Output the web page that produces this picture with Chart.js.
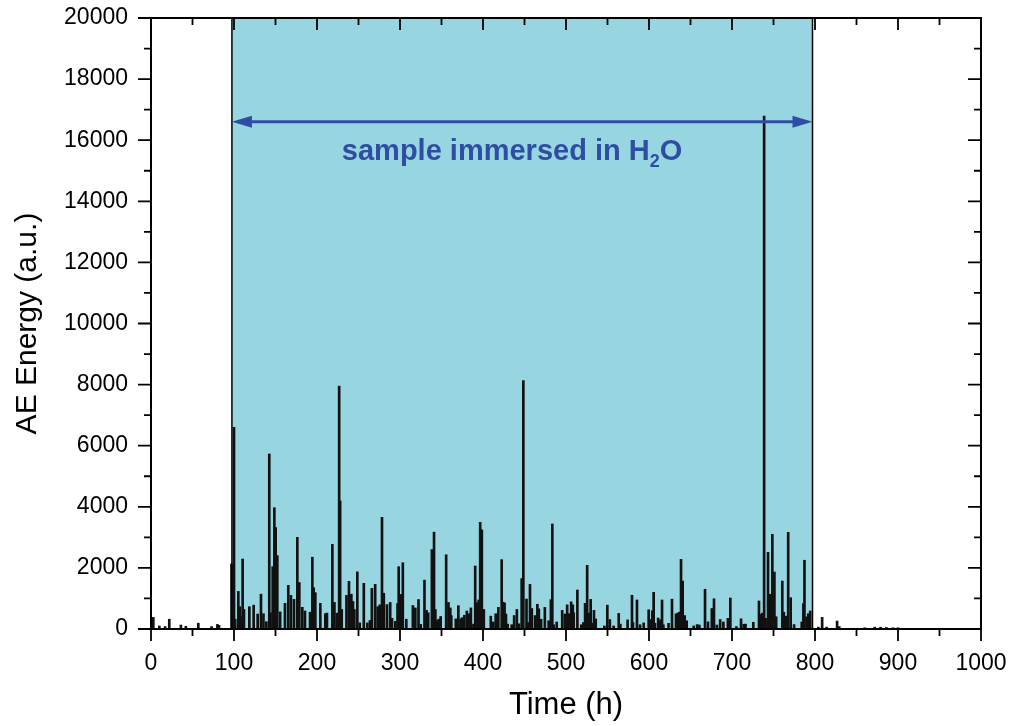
<!DOCTYPE html>
<html>
<head>
<meta charset="utf-8">
<script src="https://cdn.jsdelivr.net/npm/chart.js@4/dist/chart.umd.min.js"></script>
<style>
html,body{margin:0;padding:0;background:#fff;}
#wrap{width:1011px;height:726px;position:relative;}
</style>
</head>
<body>
<div id="wrap"><canvas id="c" width="1011" height="726"></canvas></div>
<script>
// ---- data ----
const times = [
  2.8, 10, 17, 22, 36, 42, 57, 73, 80, 82,
  97, 100, 101.5, 105.2, 107, 108, 110.4, 112, 118.5, 123.7, 128.5, 132.5, 135.5, 139,
  142.5, 144, 146.6, 148.6, 150.2, 152.2, 155.6, 161.4, 165.4, 168.6, 172.3, 176.3, 178.7,
  182.3, 185.5, 191.6, 194.4, 196, 198, 204, 210, 212, 218.5, 221, 224, 226.7, 227.9, 229.8,
  235.5, 238.5, 241.4, 243.4, 245, 248.6, 251.5, 256.4, 260.7, 263.8, 266.1, 270.1, 273.2,
  275.6, 278.3, 280.5, 284.3, 288.2, 290.4, 294.4, 297, 298.4, 301.2, 303.4, 307.6, 315.5,
  318.5, 322.3, 325, 329.5, 332, 334, 338.4, 341, 342.6, 344.5, 346.6, 349, 355.6, 358.4,
  360.6, 361.8, 367.2, 370.3, 373, 374.4, 377.5, 380.5, 383, 385.4, 388.5, 390.6, 393, 394.8,
  396.6, 398.6, 401, 409.4, 412.4, 415.3, 418.5, 422.5, 424.5, 426, 427.7, 429.7, 434.6,
  437.5, 440.8, 443.4, 446.6, 448.6, 452.4, 454.2, 456.6, 458.8, 462.7, 465.5, 467.3, 470,
  474.5, 479.1, 481.8, 483.5, 485.1, 488.8, 495.4, 498.6, 501.4, 503.4, 506.2, 508.2, 509.3,
  513.7, 518.5, 520.9, 523, 525.5, 527.5, 529.7, 531.7, 533.7, 535.8, 546.2, 549.8, 552.8,
  557.4, 563.5, 565.5, 574.2, 579.5, 580.7, 585.5, 589.2, 593.6, 599.6, 602.2, 604, 605.6,
  607.2, 611, 612.9, 615.7, 617.3, 623.6, 627.7, 632.5, 634.5, 636.5, 638.6, 640.6, 643,
  645.4, 653.8, 658, 660.7, 667.5, 671.1, 675.7, 678.3, 681.7, 685.7, 689.6, 695, 698,
  705.3, 710.9, 714.2, 716.3, 725.7, 732.5, 735, 736.5, 738.7, 740.5, 743.4, 745.5, 748.6,
  751.1, 753.2, 760.6, 762.5, 764.8, 767.7, 770.7, 774.8, 784, 786, 787.3, 789.9, 791.9, 794.2,
  804, 808.6, 814, 826.6, 829.2, 860, 872, 879, 886, 894, 900
];
const energies = [
  380, 100, 80, 320, 130, 90, 190, 80, 150, 120,
  2130, 6600, 320, 1230, 730, 400, 2290, 640, 730, 780, 490, 1140, 500, 240,
  5730, 530, 2040, 3970, 3320, 2400, 560, 840, 1430, 1100, 970, 3000, 1520,
  710, 590, 550, 2350, 1350, 1190, 840, 500, 520, 2770, 870, 520, 7950, 4190, 640,
  1100, 1560, 1140, 900, 640, 1870, 200, 1495, 200, 280, 1330, 1460, 730,
  790, 3655, 1170, 800, 870, 350, 250, 830, 2040, 1130, 2170, 320, 770,
  690, 965, 150, 1600, 610, 530, 2600, 3170, 640, 280, 320, 410, 2430, 870,
  690, 440, 330, 764, 317, 370, 450, 590, 500, 690, 160, 2062, 860, 950,
  3490, 3245, 640, 420, 230, 500, 710, 2270, 875, 850, 490, 160, 140,
  440, 640, 170, 1650, 8130, 980, 210, 1460, 670, 440, 810, 660, 320,
  710, 270, 960, 3437, 140, 230, 610, 490, 790, 500, 890, 790, 530,
  1277, 140, 210, 840, 2085, 520, 970, 190, 610, 330, 100, 780, 310,
  100, 510, 160, 300, 1105, 210, 950, 140, 200, 630, 310, 600, 1200,
  190, 360, 300, 950, 140, 185, 975, 495, 520, 550, 2280, 1570, 440,
  270, 100, 145, 130, 1300, 235, 670, 990, 130, 310, 230, 350, 1015,
  80, 335, 155, 160, 220, 917, 480, 520, 16790, 350, 2510, 1135, 3100,
  1865, 400, 1570, 550, 420, 3165, 1025, 145, 230, 830, 2250, 400, 500, 590,
  60, 380, 60, 260, 80, 40, 60, 60, 50, 40, 40
];
const xTickValues = [0, 100, 200, 300, 400, 500, 600, 700, 800, 900, 1000];
const yTickValues = [0, 2000, 4000, 6000, 8000, 10000, 12000, 14000, 16000, 18000, 20000];
const immersion = [97.5, 797];       // h, start / end of immersion
const arrowLevel = 16600;             // a.u.
const labelText = ['sample immersed in H', '2', 'O'];
const labelPos = [435, 15350];

const FONT = '"Liberation Sans", Arial, sans-serif';
const BLUE = '#2f4ea3';

const decor = {
  id: 'decor',
  beforeDatasetsDraw(chart) {
    const {ctx, chartArea: a, scales: {x, y}} = chart;
    const x0 = x.getPixelForValue(immersion[0]), x1 = x.getPixelForValue(immersion[1]);
    ctx.save();
    ctx.fillStyle = '#97d6e0';
    ctx.fillRect(x0, a.top, x1 - x0, a.bottom - a.top);
    ctx.restore();
  },
  afterDatasetsDraw(chart) {
    const {ctx, chartArea: a, scales: {x, y}} = chart;
    const x0 = x.getPixelForValue(immersion[0]), x1 = x.getPixelForValue(immersion[1]);
    ctx.save();
    ctx.strokeStyle = '#000'; ctx.lineWidth = 1.5;
    [x0, x1].forEach(px => { ctx.beginPath(); ctx.moveTo(px, a.top); ctx.lineTo(px, a.bottom); ctx.stroke(); });
    ctx.lineWidth = 2;
    ctx.strokeRect(a.left, a.top, a.right - a.left, a.bottom - a.top);
    ctx.lineWidth = 1.8;
    for (let v = 0; v <= 1000; v += 50) {
      const px = x.getPixelForValue(v);
      const major = v % 100 === 0;
      const L = major ? 12 : 7;
      ctx.beginPath();
      ctx.moveTo(px, a.bottom); ctx.lineTo(px, a.bottom + L);
      ctx.moveTo(px, a.top); ctx.lineTo(px, a.top + L);
      ctx.stroke();
    }
    for (let v = 0; v <= 20000; v += 1000) {
      const py = y.getPixelForValue(v);
      const major = v % 2000 === 0;
      const L = major ? 13 : 7;
      ctx.beginPath();
      ctx.moveTo(a.left, py); ctx.lineTo(a.left - L, py);
      ctx.moveTo(a.right, py); ctx.lineTo(a.right - L, py);
      ctx.stroke();
    }
    const ay = y.getPixelForValue(arrowLevel);
    ctx.strokeStyle = BLUE; ctx.fillStyle = BLUE; ctx.lineWidth = 3;
    const hl = 20, hw = 6;
    ctx.beginPath(); ctx.moveTo(x0 + hl - 2, ay); ctx.lineTo(x1 - hl + 2, ay); ctx.stroke();
    ctx.beginPath(); ctx.moveTo(x0, ay); ctx.lineTo(x0 + hl, ay - hw); ctx.lineTo(x0 + hl, ay + hw); ctx.closePath(); ctx.fill();
    ctx.beginPath(); ctx.moveTo(x1, ay); ctx.lineTo(x1 - hl, ay - hw); ctx.lineTo(x1 - hl, ay + hw); ctx.closePath(); ctx.fill();
    const big = 'bold 29px ' + FONT, small = 'bold 18px ' + FONT;
    ctx.font = big; const w1 = ctx.measureText(labelText[0]).width;
    const w3 = ctx.measureText(labelText[2]).width;
    ctx.font = small; const w2 = ctx.measureText(labelText[1]).width;
    const total = w1 + w2 + w3;
    let tx = x.getPixelForValue(labelPos[0]) - total / 2;
    const ty = y.getPixelForValue(labelPos[1]);
    ctx.textBaseline = 'alphabetic'; ctx.textAlign = 'left';
    ctx.font = big; ctx.fillText(labelText[0], tx, ty); tx += w1;
    ctx.font = small; ctx.fillText(labelText[1], tx, ty + 7); tx += w2;
    ctx.font = big; ctx.fillText(labelText[2], tx, ty);
    ctx.restore();
  }
};

new Chart(document.getElementById('c'), {
  type: 'bar',
  data: {
    datasets: [{
      data: times.map((t, i) => ({x: t, y: energies[i]})),
      backgroundColor: '#111',
      borderWidth: 0,
      barThickness: 2,
      grouped: false
    }]
  },
  options: {
    responsive: false,
    animation: false,
    events: [],
    layout: {padding: {left: 0, top: 18, right: 30, bottom: 0}},
    plugins: {legend: {display: false}, tooltip: {enabled: false}},
    scales: {
      x: {
        type: 'linear', min: 0, max: 1000, offset: false,
        afterFit: s => { s.height = 97; s.paddingLeft = 0; s.paddingRight = 0; },
        afterBuildTicks: s => { s.ticks = xTickValues.map(v => ({value: v})); },
        grid: {display: false},
        border: {display: false},
        ticks: {color: '#000', font: {family: FONT, size: 23}, padding: 13, maxRotation: 0, autoSkip: false,
                callback: v => String(v)},
        title: {display: true, text: 'Time (h)', color: '#000', font: {family: FONT, size: 31}, padding: {top: 0, bottom: 2}}
      },
      y: {
        min: 0, max: 20000,
        afterFit: s => { s.width = 151; s.paddingTop = 0; s.paddingBottom = 0; },
        afterBuildTicks: s => { s.ticks = yTickValues.map(v => ({value: v})); },
        grid: {display: false},
        border: {display: false},
        ticks: {color: '#000', font: {family: FONT, size: 23}, padding: 15, autoSkip: false,
                callback: v => String(v)},
        title: {display: true, text: 'AE Energy (a.u.)', color: '#000', font: {family: FONT, size: 30}, padding: {top: 10, bottom: 0}}
      }
    }
  },
  plugins: [decor]
});
</script>
</body>
</html>
